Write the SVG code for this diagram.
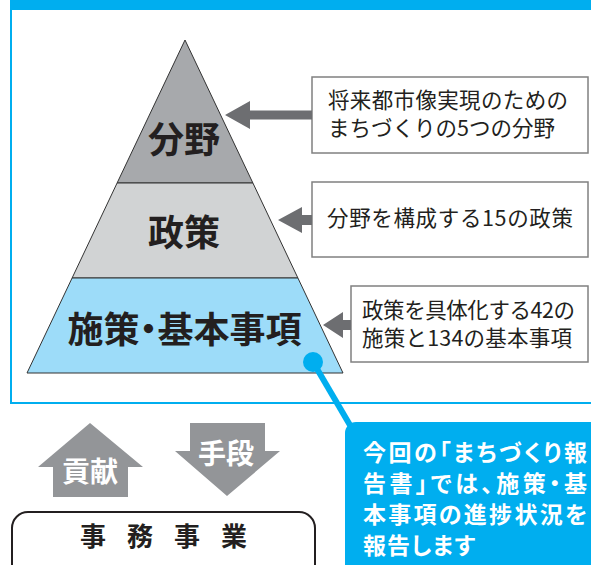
<svg xmlns="http://www.w3.org/2000/svg" width="591" height="565" viewBox="0 0 591 565">
<style>
.jp{font-family:"Noto Sans CJK JP","Noto Sans",sans-serif}
.lvl{font-size:36px;font-weight:bold;fill:#231f20;text-anchor:middle;font-feature-settings:"palt"}
.note{font-size:21.5px;fill:#231f20}
.box{fill:#fff;stroke:#808080;stroke-width:1.5}
.arr{fill:#6d6e71}
.big{fill:#939598}
.wt{fill:#fff;font-weight:bold}
.call{font-size:23px;font-weight:bold;fill:#fff;font-feature-settings:"palt"}
</style>
<rect x="10" y="0" width="581" height="10" fill="#00aeef"/>
<rect x="11" y="-5" width="590" height="408" fill="none" stroke="#00aeef" stroke-width="2"/>
<g id="pyramid-top">
<polygon points="185,40 252.9,183 117.1,183" fill="#a7a9ac" stroke="#333" stroke-width="1"/>
<text class="jp lvl" x="184" y="153">分野</text>
</g>
<g id="pyramid-mid">
<polygon points="117.1,183 252.9,183 297.9,278 72.1,278" fill="#d1d3d4" stroke="#333" stroke-width="1"/>
<text class="jp lvl" x="184" y="246">政策</text>
</g>
<g id="pyramid-base">
<polygon points="72.1,278 297.9,278 343,373 27,373" fill="#9ddcf9" stroke="#333" stroke-width="1"/>
<text class="jp lvl" x="184.5" y="343">施策・基本事項</text>
</g>
<g id="note1">
<rect class="box" x="312" y="77" width="276" height="76"/>
<text class="jp note" x="328" y="108" textLength="240" lengthAdjust="spacing">将来都市像実現のための</text>
<text class="jp note" x="328" y="136" textLength="227" lengthAdjust="spacing">まちづくりの5つの分野</text>
</g>
<g id="note2">
<rect class="box" x="312" y="182" width="276" height="75"/>
<text class="jp note" x="327" y="226" textLength="246" lengthAdjust="spacing">分野を構成する15の政策</text>
</g>
<g id="note3">
<rect class="box" x="351" y="286" width="237" height="76"/>
<text class="jp note" x="362" y="318" textLength="213" lengthAdjust="spacing">政策を具体化する42の</text>
<text class="jp note" x="362" y="346" textLength="210" lengthAdjust="spacing">施策と134の基本事項</text>
</g>
<g id="connectors">
<polygon class="arr" points="225,115 250,101 250,110.5 312,110.5 312,119.5 250,119.5 250,129"/>
<polygon class="arr" points="278,220 302,207 302,215 312,215 312,225 302,225 302,233"/>
<polygon class="arr" points="323,325 343,312 343,320 351,320 351,330 343,330 343,338"/>
<line x1="313" y1="362" x2="354" y2="432" stroke="#00aeef" stroke-width="6"/>
<circle cx="313" cy="362" r="10" fill="#00aeef"/>
</g>
<g id="callout">
<rect x="345" y="422" width="260" height="160" rx="11" fill="#00aeef"/>
<text class="jp call" x="363" y="461" textLength="224" lengthAdjust="spacing">今回の「まちづくり報</text>
<text class="jp call" x="363" y="492" textLength="224" lengthAdjust="spacing">告書」では、施策・基</text>
<text class="jp call" x="363" y="523" textLength="224" lengthAdjust="spacing">本事項の進捗状況を</text>
<text class="jp call" x="363" y="554" textLength="112" lengthAdjust="spacing">報告します</text>
</g>
<g id="contribution">
<polygon class="big" points="90,423 143,467 128,467 128,497 53,497 53,467 38,467"/>
<text class="jp wt" x="90" y="482" font-size="28" text-anchor="middle">貢献</text>
</g>
<g id="means">
<polygon class="big" points="190,423 265,423 265,451 280,451 227,496 175,451 190,451"/>
<text class="jp wt" x="226" y="464" font-size="28" text-anchor="middle">手段</text>
</g>
<g id="jimu">
<rect x="12" y="512" width="303" height="70" rx="16" fill="#fff" stroke="#231f20" stroke-width="2"/>
<text class="jp" x="174" y="546" font-size="26" font-weight="bold" fill="#231f20" text-anchor="middle" letter-spacing="21">事務事業</text>
</g>
</svg>
